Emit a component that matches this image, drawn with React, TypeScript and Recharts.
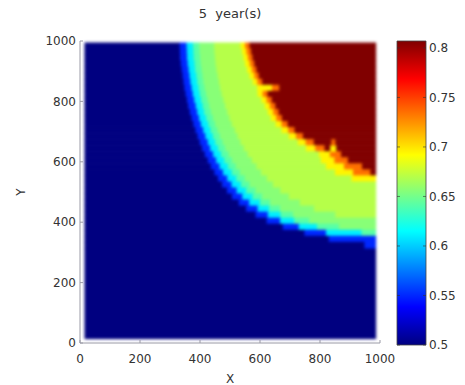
import React from 'react';
import { ComposedChart, XAxis, YAxis, ReferenceArea } from 'recharts';

const FONT = '"DejaVu Sans", "Liberation Sans", sans-serif';
const TITLE = '5  year(s)';
const X_LABEL = 'X';
const Y_LABEL = 'Y';
const X_TICKS = [0, 200, 400, 600, 800, 1000];
const Y_TICKS = [0, 200, 400, 600, 800, 1000];
const CB_TICKS = [0.5, 0.55, 0.6, 0.65, 0.7, 0.75, 0.8];
const C_MIN = 0.5;
const C_MAX = 0.807;

// value of each run between consecutive breakpoints in a row
const LEVELS = [0.5, 0.55, 0.61, 0.642, 0.656, 0.67, 0.695, 0.735, 0.807];
const GRID_X = [15, 985];
const ROW_H = 20;
const BASE_BLOCK = { y1: 15, y2: 315, value: 0.5 };

// centre of each 20-unit row
const ROW_Y = [985, 965, 945, 925, 905, 885, 865, 845, 825, 805, 785, 765, 745, 725, 705, 685, 665, 645, 625, 605, 585, 565, 545, 525, 505, 485, 465, 445, 425, 405, 385, 365, 345, 325];

// breakpoints (X) across the blue -> cyan -> green front, per row
const BLUE_EDGES = [
  [332, 355, 377, 397, 447],
  [333, 356, 378, 398, 448],
  [334, 357, 379, 400, 450],
  [336, 359, 382, 402, 452],
  [339, 362, 384, 405, 455],
  [342, 365, 388, 408, 459],
  [345, 368, 391, 411, 463],
  [348, 372, 395, 415, 467],
  [352, 376, 399, 420, 472],
  [357, 381, 404, 425, 478],
  [361, 386, 409, 430, 484],
  [366, 391, 414, 436, 491],
  [372, 397, 421, 443, 498],
  [378, 403, 428, 450, 506],
  [385, 411, 435, 458, 516],
  [392, 418, 443, 466, 525],
  [399, 426, 451, 475, 535],
  [407, 434, 460, 484, 546],
  [416, 444, 470, 495, 559],
  [426, 454, 481, 507, 573],
  [436, 465, 493, 519, 588],
  [448, 477, 506, 533, 604],
  [460, 491, 521, 549, 623],
  [474, 505, 536, 565, 643],
  [490, 522, 554, 585, 668],
  [507, 541, 575, 607, 696],
  [529, 564, 600, 634, 733],
  [554, 592, 630, 667, 780],
  [585, 626, 668, 710, 851],
  [622, 667, 714, 764, 1000],
  [676, 729, 790, 863, 1000],
  [748, 820, 938, 1000, 1000],
  [829, 1000, 1000, 1000, 1000],
  [948, 1000, 1000, 1000, 1000],
];

// breakpoints (X) across the yellow -> orange -> dark red front, per row
const RED_EDGES = [
  [535, 550, 565],
  [540, 555, 570],
  [545, 560, 575],
  [550, 566, 581],
  [557, 573, 588],
  [565, 581, 596],
  [576, 591, 607],
  [590, 640, 664],
  [592, 609, 625],
  [605, 622, 639],
  [616, 633, 651],
  [626, 644, 662],
  [636, 654, 673],
  [652, 672, 692],
  [672, 694, 715],
  [696, 720, 743],
  [726, 752, 779],
  [753, 784, 815],
  [796, 833, 870],
  [803, 848, 893],
  [820, 880, 940],
  [850, 910, 968],
  [905, 1000, 1000],
  [1000, 1000, 1000],
  [1000, 1000, 1000],
  [1000, 1000, 1000],
  [1000, 1000, 1000],
  [1000, 1000, 1000],
  [1000, 1000, 1000],
  [1000, 1000, 1000],
  [1000, 1000, 1000],
  [1000, 1000, 1000],
  [1000, 1000, 1000],
  [1000, 1000, 1000],
];

// narrow yellow/orange notches reaching into the red region
const SPIKES = [
  { y: 645, x1: 834, x2: 852, value: 0.695 },
  { y: 665, x1: 838, x2: 849, value: 0.735 },
];

const FRAME = [{ x: 0, y: 0 }, { x: 1000, y: 1000 }];

function jet(v: number): string {
  const t = Math.min(1, Math.max(0, (v - C_MIN) / (C_MAX - C_MIN)));
  const c = (x: number) => Math.round(255 * Math.min(1, Math.max(0, x)));
  const r = c(1.5 - Math.abs(4 * t - 3));
  const g = c(1.5 - Math.abs(4 * t - 2));
  const b = c(1.5 - Math.abs(4 * t - 1));
  return `rgb(${r},${g},${b})`;
}

type Cell = { x1: number; x2: number; y1: number; y2: number; v: number };

function buildCells(): Cell[] {
  const cells: Cell[] = [];
  cells.push({ x1: GRID_X[0], x2: GRID_X[1], y1: BASE_BLOCK.y1, y2: BASE_BLOCK.y2, v: BASE_BLOCK.value });
  ROW_Y.forEach((yc, i) => {
    const edges = [GRID_X[0], ...BLUE_EDGES[i], ...RED_EDGES[i], GRID_X[1]].map((e) =>
      Math.min(GRID_X[1], Math.max(GRID_X[0], e))
    );
    for (let k = 0; k < edges.length - 1; k++) {
      if (edges[k + 1] > edges[k]) {
        cells.push({ x1: edges[k], x2: edges[k + 1], y1: yc - ROW_H / 2, y2: yc + ROW_H / 2, v: LEVELS[k] });
      }
    }
  });
  SPIKES.forEach((s) => {
    cells.push({ x1: s.x1, x2: s.x2, y1: s.y - ROW_H / 2, y2: s.y + ROW_H / 2, v: s.value });
  });
  return cells;
}

const CELLS = buildCells();

const CellShape = (p: any) => (
  <rect
    x={p.x}
    y={p.y}
    width={Math.max(0, p.width + 0.6)}
    height={Math.max(0, p.height + 0.6)}
    fill={p.fill}
    fillOpacity={1}
    stroke="none"
  />
);

const X_TICK_MARGIN = 11;
const Y_TICK_MARGIN = 4;
const CB_TICK_MARGIN = 3;
const TEXT_COLOR = '#333';
const AXIS_COLOR = '#9a9aa6';

const XTick = (p: any) => {
  const axisY = p.y - X_TICK_MARGIN;
  return (
    <g>
      <line x1={p.x} x2={p.x} y1={axisY} y2={axisY - 3} stroke={AXIS_COLOR} />
      <text x={p.x} y={p.y} dy="0.71em" textAnchor="middle" fill={TEXT_COLOR} fontSize={12} fontFamily={FONT}>
        {p.payload.value}
      </text>
    </g>
  );
};

const YTick = (p: any) => {
  const axisX = p.x + Y_TICK_MARGIN;
  return (
    <g>
      <line x1={axisX} x2={axisX + 3} y1={p.y} y2={p.y} stroke={AXIS_COLOR} />
      <text x={p.x} y={p.y} dy="0.355em" textAnchor="end" fill={TEXT_COLOR} fontSize={12} fontFamily={FONT}>
        {p.payload.value}
      </text>
    </g>
  );
};

const CB_WIDTH = 29;
const CbTick = (p: any) => {
  const right = p.x - CB_TICK_MARGIN;
  const left = right - CB_WIDTH;
  return (
    <g>
      <line x1={right} x2={right - 3} y1={p.y} y2={p.y} stroke="#333" strokeOpacity={0.6} />
      <line x1={left} x2={left + 3} y1={p.y} y2={p.y} stroke="#333" strokeOpacity={0.6} />
      <text x={p.x} y={p.y} dy="0.355em" textAnchor="start" fill={TEXT_COLOR} fontSize={12} fontFamily={FONT}>
        {p.payload.value}
      </text>
    </g>
  );
};

const JET_STOPS = [
  { t: 0, v: C_MIN },
  { t: 0.125, v: C_MIN + 0.125 * (C_MAX - C_MIN) },
  { t: 0.375, v: C_MIN + 0.375 * (C_MAX - C_MIN) },
  { t: 0.625, v: C_MIN + 0.625 * (C_MAX - C_MIN) },
  { t: 0.875, v: C_MIN + 0.875 * (C_MAX - C_MIN) },
  { t: 1, v: C_MAX },
];

export default function App() {
  return (
    <div style={{ position: 'absolute', left: 0, top: 0, width: 465, height: 385, background: '#fff', fontFamily: FONT }}>
      <div style={{ position: 'absolute', left: 0, top: 0, filter: 'blur(1.6px)' }}>
        <ComposedChart width={400} height={385} margin={{ top: 41, right: 20, bottom: 42, left: 80 }} data={FRAME}>
          <XAxis type="number" dataKey="x" domain={[0, 1000]} hide allowDataOverflow />
          <YAxis type="number" dataKey="y" domain={[0, 1000]} hide allowDataOverflow />
          {CELLS.map((c, i) => (
            <ReferenceArea
              key={i}
              x1={c.x1}
              x2={c.x2}
              y1={c.y1}
              y2={c.y2}
              fill={jet(c.v)}
              fillOpacity={1}
              stroke="none"
              shape={CellShape}
            />
          ))}
        </ComposedChart>
      </div>
      <div style={{ position: 'absolute', left: 0, top: 0 }}>
        <ComposedChart width={400} height={385} margin={{ top: 41, right: 20, bottom: 0, left: 0 }} data={FRAME}>
          <XAxis
            type="number"
            dataKey="x"
            domain={[0, 1000]}
            ticks={X_TICKS}
            allowDataOverflow
            height={42}
            tickSize={0}
            tickMargin={X_TICK_MARGIN}
            tickLine={false}
            axisLine={{ stroke: AXIS_COLOR }}
            tick={<XTick />}
            interval={0}
            label={{ value: X_LABEL, position: 'insideBottom', offset: 2, fill: TEXT_COLOR, fontSize: 12, fontFamily: FONT }}
          />
          <YAxis
            type="number"
            dataKey="y"
            domain={[0, 1000]}
            ticks={Y_TICKS}
            allowDataOverflow
            width={80}
            tickSize={0}
            tickMargin={Y_TICK_MARGIN}
            tickLine={false}
            axisLine={{ stroke: AXIS_COLOR }}
            tick={<YTick />}
            interval={0}
            label={{ value: Y_LABEL, angle: -90, position: 'insideLeft', offset: 21, textAnchor: 'middle', fill: TEXT_COLOR, fontSize: 12, fontFamily: FONT }}
          />
        </ComposedChart>
      </div>
      <div style={{ position: 'absolute', left: 380, top: 0 }}>
        <ComposedChart width={85} height={385} margin={{ top: 41, right: 0, bottom: 40, left: 17 }} data={FRAME}>
          <defs>
            <linearGradient id="jetGrad" x1="0" y1="1" x2="0" y2="0">
              {JET_STOPS.map((s) => (
                <stop key={s.t} offset={s.t} stopColor={jet(s.v)} />
              ))}
            </linearGradient>
          </defs>
          <XAxis type="number" dataKey="x" domain={[0, 1]} hide allowDataOverflow />
          <YAxis
            type="number"
            orientation="right"
            domain={[C_MIN, C_MAX]}
            ticks={CB_TICKS}
            allowDataOverflow
            width={39}
            tickSize={0}
            tickMargin={CB_TICK_MARGIN}
            tickLine={false}
            axisLine={false}
            tick={<CbTick />}
            interval={0}
          />
          <ReferenceArea x1={0} x2={1} y1={C_MIN} y2={C_MAX} fill="url(#jetGrad)" fillOpacity={1} stroke="#444" strokeWidth={0.8} />
        </ComposedChart>
      </div>
      <div
        style={{
          position: 'absolute',
          left: 80,
          width: 300,
          top: 6,
          textAlign: 'center',
          fontSize: 13,
          color: TEXT_COLOR,
          whiteSpace: 'pre',
          fontFamily: FONT,
        }}
      >
        {TITLE}
      </div>
    </div>
  );
}
